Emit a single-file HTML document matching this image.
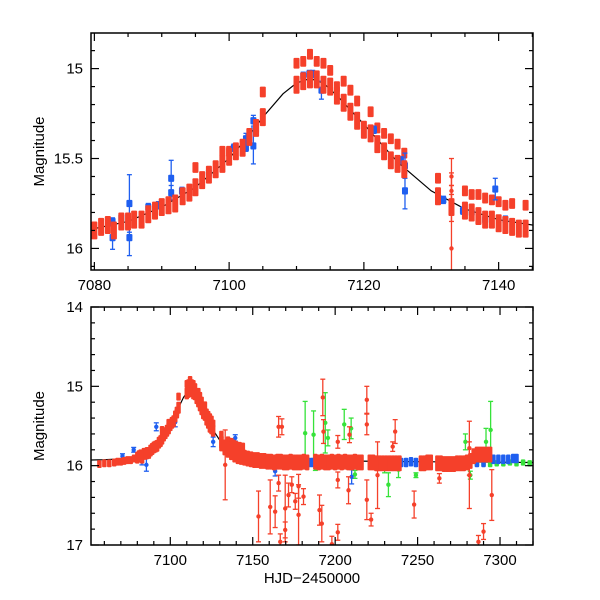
<!DOCTYPE html>
<html><head><meta charset="utf-8"><style>
html,body{margin:0;padding:0;background:#fff}
svg{display:block}
text{font-family:"Liberation Sans",sans-serif;fill:#000}
</style></head><body>
<svg id="chart" width="600" height="600" viewBox="0 0 600 600">
<g id="top"></g>
<g id="bot"></g>
</svg>
<script>
// ---------- data ----------
const modelT = [7050,7060,7070,7080,7085,7090,7095,7100,7103,7105,7108,7110,7112,7114,7116,7120,7125,7130,7135,7140,7145,7160,7200,7250,7320];
const modelMag = [15.93,15.925,15.915,15.89,15.85,15.77,15.66,15.50,15.37,15.27,15.14,15.08,15.055,15.08,15.15,15.31,15.52,15.68,15.78,15.84,15.87,15.92,15.94,15.95,15.96];

const redT = [7080,7081,7082,7082.9,7084,7085,7085.9,7087,7088,7089,7090,7091,7092,7093.1,7094.1,7095,7096,7097,7098,7099,7100,7101,7102,7103,7104,7105,7110,7111,7112,7113,7114,7115,7116,7117,7118,7119,7120,7121,7122,7123,7124,7125,7126,7131,7133,7135,7136,7137,7138,7139,7140,7141,7142,7143,7144];
const redMag = [15.90,15.88,15.87,15.90,15.85,15.85,15.84,15.84,15.81,15.79,15.77,15.76,15.75,15.71,15.69,15.66,15.62,15.59,15.56,15.53,15.49,15.46,15.44,15.38,15.33,15.27,15.09,15.07,15.06,15.06,15.09,15.10,15.15,15.19,15.24,15.29,15.34,15.36,15.42,15.46,15.51,15.53,15.56,15.71,15.77,15.79,15.80,15.82,15.84,15.84,15.86,15.87,15.88,15.89,15.89];
const red2T = [7095,7099,7100,7104,7105,7110,7111,7112,7113,7114,7115,7116,7117,7118,7119,7121,7122,7123,7124,7125,7126,7131,7135,7136,7137,7138,7139,7140,7141,7142,7144];
const red2Mag = [15.55,15.46,15.46,15.33,15.13,14.97,14.96,14.92,14.96,14.97,15.01,15.10,15.07,15.12,15.18,15.24,15.33,15.36,15.39,15.42,15.47,15.61,15.68,15.70,15.70,15.72,15.73,15.74,15.76,15.75,15.76];
const blueT = [7082.7,7082.7,7085.2,7085.2,7084.0,7088.0,7089.5,7091.4,7091.4,7093,7097,7100.7,7102.5,7102.5,7103.6,7103.6,7111.0,7111.9,7112.4,7113.7,7121.5,7125.5,7126.1,7126.1,7131.8,7134.7,7136.0,7138,7139.5,7141];
const blueMag = [15.85,15.94,15.75,15.94,15.83,15.77,15.76,15.61,15.69,15.68,15.58,15.44,15.39,15.44,15.43,15.29,15.04,15.03,15.03,15.12,15.34,15.51,15.54,15.68,15.73,15.79,15.80,15.84,15.67,15.84];
const blueErr = [0.02,0.065,0.16,0.10,0.02,0.02,0.02,0.10,0.04,0.02,0.02,0.02,0.03,0.02,0.10,0.03,0.02,0.02,0.02,0.05,0.02,0.02,0.07,0.10,0.02,0.02,0.02,0.02,0.06,0.02];

const earlyT = [7057,7060,7063,7066,7068,7070,7072,7074,7076,7078];
const earlyMag = [15.98,15.97,15.97,15.96,15.95,15.95,15.94,15.93,15.93,15.91];
const tailT = [7131,7133,7135,7137,7139,7141,7143,7145,7147,7149,7151,7153,7155,7157,7159,7161,7163,7165,7167,7169,7171,7173,7175,7177,7179,7181,7183,7188,7190,7192,7194,7196,7198,7200,7202,7204,7206,7208,7210,7212,7214,7216,7221,7223,7225,7227,7229,7231,7233,7235,7237,7239,7252,7254,7256,7258,7262,7264,7266,7268,7270,7272,7274,7276,7278,7280,7282,7284,7286,7288,7290,7292,7294];
const tailMag = [15.72,15.77,15.80,15.83,15.86,15.88,15.89,15.90,15.91,15.92,15.93,15.93,15.94,15.94,15.95,15.95,15.96,15.95,15.95,15.96,15.96,15.95,15.96,15.96,15.96,15.95,15.96,15.95,15.96,15.95,15.96,15.96,15.95,15.96,15.95,15.96,15.95,15.96,15.96,15.95,15.96,15.96,15.96,15.96,15.97,15.97,15.97,15.97,15.97,15.97,15.97,15.97,15.97,15.97,15.96,15.96,15.97,15.97,15.98,15.98,15.98,15.98,15.97,15.97,15.97,15.96,15.94,15.88,15.86,15.86,15.86,15.86,15.86];
const outT = [7133.3,7153.5,7160.6,7163.6,7165.7,7165.7,7166.7,7167.7,7169.7,7169.7,7171.7,7173.7,7175.8,7177.8,7177.8,7180.8,7190.5,7191.9,7192.5,7192.9,7198,7201.6,7201.6,7201.6,7208.1,7208.7,7219.2,7219.2,7219.2,7221.8,7225.7,7234.9,7236.4,7247.9,7263.2,7281.4,7281.4,7286.9,7295,7290];
const outMag = [15.99,16.64,16.52,16.58,15.51,16.22,16.96,15.51,16.54,16.81,16.37,16.24,16.45,16.62,16.26,16.39,16.56,16.73,15.14,15.57,16.99,16.84,16.18,15.70,16.31,15.61,15.17,15.48,16.43,16.68,16.12,15.76,15.57,16.49,16.16,15.78,16.12,16.96,16.37,16.83];
const outErr = [0.44,0.32,0.34,0.20,0.13,0.10,0.10,0.10,0.42,0.10,0.15,0.10,0.10,0.38,0.15,0.10,0.19,0.23,0.23,0.15,0.10,0.10,0.10,0.08,0.17,0.10,0.17,0.13,0.25,0.08,0.42,0.06,0.15,0.17,0.06,0.34,0.42,0.08,0.32,0.10];
const grT = [7181.8,7186.9,7194,7195.6,7205.5,7209.7,7232.3,7238.4,7249,7279,7291.5,7294.3,7282,7188,7212,7230];
const grMag = [15.59,15.61,15.46,15.65,15.48,15.53,16.24,16.05,16.12,15.70,15.70,15.55,16.12,16.03,16.11,16.04];
const grErr = [0.40,0.30,0.38,0.10,0.19,0.13,0.15,0.10,0.03,0.10,0.17,0.36,0.05,0.03,0.05,0.05];
const grBandT = [7286,7290,7294,7298,7302,7306,7310,7314,7318];
const grBandMag = [15.97,15.97,15.98,15.97,15.97,15.96,15.97,15.96,15.97];
const blBandT = [7184,7186,7188,7190,7240,7243,7246,7249,7256,7286,7290,7296,7299,7302,7305,7308,7310];
const blBandMag = [15.96,15.96,15.95,15.96,15.96,15.96,15.95,15.96,15.96,15.96,15.96,15.92,15.92,15.92,15.92,15.91,15.91];
const blOutT = [7126,7139.4,7091.5,7085.5,7082.8,7077.8,7210,7163.6,7103,7071];
const blOutMag = [15.70,15.65,15.51,15.99,15.95,15.80,16.14,16.07,15.45,15.88];
const blOutErr = [0.06,0.04,0.05,0.08,0.04,0.03,0.09,0.06,0.06,0.03];

const topXTicks = [7080,7100,7120,7140];
const topYTicks = [15,15.5,16];
const botXTicks = [7100,7150,7200,7250,7300];
const botYTicks = [14,15,16,17];

const RED='#f5402a', BLUE='#1f5ff0', GREEN='#36e23a';
const NS='http://www.w3.org/2000/svg';
function mk(tag,attrs,parent){const e=document.createElementNS(NS,tag);for(const k in attrs)e.setAttribute(k,attrs[k]);parent.appendChild(e);return e;}

function panel(g,P){
  const X=t=>P.l+(t-P.x0)/(P.x1-P.x0)*(P.r-P.l);
  const Y=m=>P.t+(m-P.y0)/(P.y1-P.y0)*(P.b-P.t);
  const clip='c'+P.id;
  const cp=mk('clipPath',{id:clip},g);
  mk('rect',{x:P.l,y:P.t,width:P.r-P.l,height:P.b-P.t},cp);
  const d=mk('g',{'clip-path':'url(#'+clip+')'},g);
  
  
  let pd='';modelT.forEach((t,i)=>{pd+=(i?'L':'M')+X(t).toFixed(1)+' '+Y(modelMag[i]).toFixed(1);});
  const c=mk('path',{d:pd,fill:'none',stroke:'#000','stroke-width':1.2},d);
  
  
  function cluster(T,M,col,name,h){
    T.forEach((t,i)=>{
      const r=mk('rect',{x:X(t)-P.cw/2,y:Y(M[i]-h/2),width:P.cw,height:Math.abs(Y(M[i]+h/2)-Y(M[i]-h/2)),fill:col,rx:1},d);
      
      
    });
  }
  function errpts(T,M,E,col,name){
    T.forEach((t,i)=>{
      const x=X(t),y=Y(M[i]),y1=Y(M[i]-E[i]),y2=Y(M[i]+E[i]);
      const gg=mk('g',{},d);
      
      
      mk('line',{x1:x,x2:x,y1:y1,y2:y2,stroke:col,'stroke-width':1.3},gg);
      mk('line',{x1:x-2.5,x2:x+2.5,y1:y1,y2:y1,stroke:col,'stroke-width':1.3},gg);
      mk('line',{x1:x-2.5,x2:x+2.5,y1:y2,y2:y2,stroke:col,'stroke-width':1.3},gg);
      mk('circle',{cx:x,cy:y,r:2.2,fill:col},gg);
    });
  }
  P.draw(cluster,errpts);
  const f=mk('rect',{x:P.l,y:P.t,width:P.r-P.l,height:P.b-P.t,fill:'none',stroke:'#000','stroke-width':1.5},g);
  
  
  for(let t=Math.ceil(P.x0/P.xm)*P.xm;t<=P.x1;t+=P.xm){
    const maj=Math.abs(t/P.xM-Math.round(t/P.xM))<1e-6, L=maj?8:4, x=X(t);
    mk('line',{x1:x,x2:x,y1:P.b,y2:P.b-L,stroke:'#000','stroke-width':1.2},g);
    mk('line',{x1:x,x2:x,y1:P.t,y2:P.t+L,stroke:'#000','stroke-width':1.2},g);
  }
  for(let k=Math.ceil(P.y0/P.ym-1e-6);k*P.ym<=P.y1+1e-6;k++){
    const m=k*P.ym, maj=Math.abs(m/P.yM-Math.round(m/P.yM))<1e-6, L=maj?8:4, y=Y(m);
    mk('line',{x1:P.l,x2:P.l+L,y1:y,y2:y,stroke:'#000','stroke-width':1.2},g);
    mk('line',{x1:P.r,x2:P.r-L,y1:y,y2:y,stroke:'#000','stroke-width':1.2},g);
  }
  P.xt.forEach(t=>{const e=mk('text',{x:X(t),y:P.b+20,'text-anchor':'middle','font-size':15},g);e.textContent=t;
    });
  P.yt.forEach(m=>{const e=mk('text',{x:P.l-8,y:Y(m)+5,'text-anchor':'end','font-size':15},g);e.textContent=m;
    });
  const yt=mk('text',{x:0,y:0,'text-anchor':'middle','font-size':15,transform:'translate(44,'+((P.t+P.b)/2)+') rotate(-90)'},g);
  yt.textContent='Magnitude';
  
  
}

panel(document.getElementById('top'),{id:'t',l:91,r:533,t:33,b:270,x0:7079.5,x1:7145.1,y0:14.802,y1:16.12,
  xm:5,xM:20,ym:0.1,yM:0.5,xt:topXTicks,yt:topYTicks,cw:6,
  draw:(cluster,errpts)=>{
    cluster(red2T,red2Mag,RED,'red-data-offset',0.06);
    cluster(blueT,blueMag,BLUE,'blue-data-cluster',0.04);
    errpts(blueT,blueMag,blueErr,BLUE,'blue-data-point');
    cluster(redT,redMag,RED,'red-data-cluster',0.1);
    errpts([7133,7133,7133,7133],[15.6,15.68,15.75,16.0],[0.1,0.1,0.1,0.35],RED,'red-outlier');
  }});

panel(document.getElementById('bot'),{id:'b',l:91,r:533,t:307,b:545,x0:7051.9,x1:7320,y0:14,y1:17,
  xm:10,xM:50,ym:0.2,yM:1,xt:botXTicks,yt:botYTicks,cw:4.5,
  draw:(cluster,errpts)=>{
    cluster(grBandT,grBandMag,GREEN,'green-baseline',0.08);
    errpts(grT,grMag,grErr,GREEN,'green-data-point');
    cluster(blBandT,blBandMag,BLUE,'blue-baseline',0.12);
    errpts(blOutT,blOutMag,blOutErr,BLUE,'blue-data-point');
    cluster(earlyT,earlyMag,RED,'red-early-cluster',0.1);
    cluster(redT,redMag,RED,'red-data-cluster',0.15);
    cluster(red2T,red2Mag,RED,'red-data-offset',0.1);
    cluster(tailT,tailMag,RED,'red-tail-cluster',0.2);
    errpts(outT,outMag,outErr,RED,'red-outlier');
  }});

const xt=mk('text',{x:312,y:583,'text-anchor':'middle','font-size':15},document.getElementById('bot'));
xt.textContent='HJD\u22122450000';


</script>
</body></html>
